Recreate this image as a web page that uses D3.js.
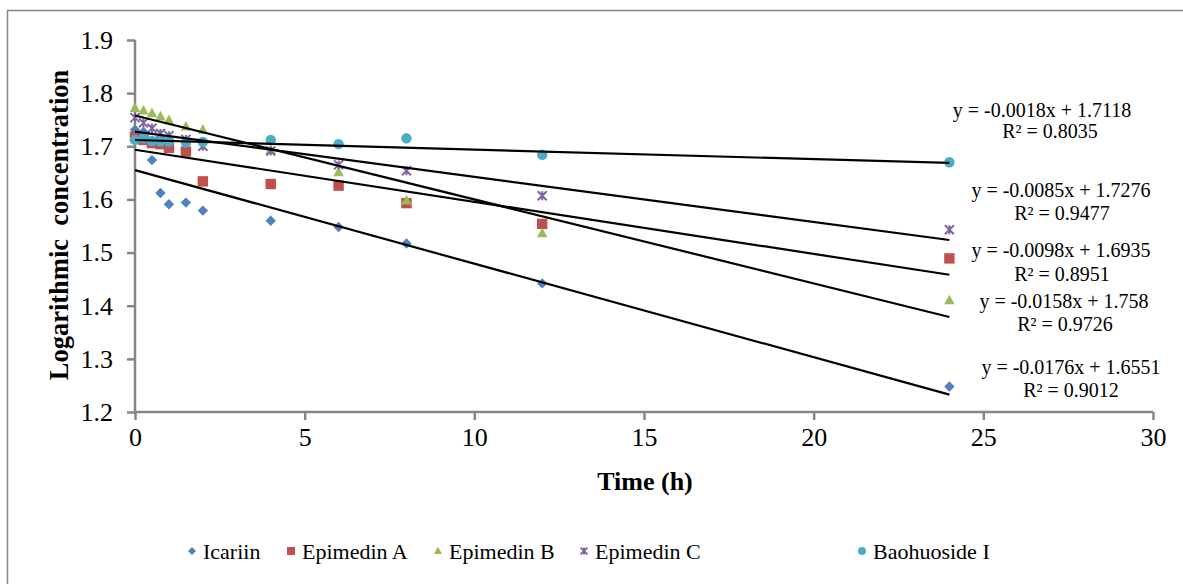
<!DOCTYPE html>
<html>
<head>
<meta charset="utf-8">
<script src="https://cdn.jsdelivr.net/npm/d3@7"></script>
<style>
  body { margin: 0; background: #fff; }
  text { font-family: "Liberation Serif", "Times New Roman", serif; fill: #000; }
</style>
</head>
<body>
<div id="chart-area"></div>
<script>
// sampling times (h)
var times = [0, 0.25, 0.5, 0.75, 1, 1.5, 2, 4, 6, 8, 12, 24];

// log concentration per compound
var icariin    = [1.731, 1.727, 1.674, 1.612, 1.591, 1.594, 1.579, 1.560, 1.548, 1.517, 1.442, 1.248];
var epimedinA  = [1.718, 1.712, 1.706, 1.704, 1.697, 1.690, 1.634, 1.629, 1.626, 1.593, 1.554, 1.489];
var epimedinB  = [1.772, 1.767, 1.762, 1.756, 1.749, 1.737, 1.731, 1.693, 1.651, 1.598, 1.536, 1.410];
var epimedinC  = [1.754, 1.744, 1.734, 1.724, 1.720, 1.713, 1.700, 1.691, 1.665, 1.654, 1.607, 1.543];
var baohuoside = [1.712, 1.715, 1.710, 1.709, 1.709, 1.707, 1.708, 1.712, 1.704, 1.715, 1.684, 1.670];

var names = ["Icariin", "Epimedin A", "Epimedin B", "Epimedin C", "Baohuoside I"];
var values = [icariin, epimedinA, epimedinB, epimedinC, baohuoside];

// linear trendlines
var slopes = [-0.0176, -0.0098, -0.0158, -0.0085, -0.0018];
var intercepts = [1.6551, 1.6935, 1.758, 1.7276, 1.7118];
var eqLabels = ["y = -0.0176x + 1.6551", "y = -0.0098x + 1.6935", "y = -0.0158x + 1.758",
                "y = -0.0085x + 1.7276", "y = -0.0018x + 1.7118"];
var r2Labels = ["R² = 0.9012", "R² = 0.8951", "R² = 0.9726", "R² = 0.9477", "R² = 0.8035"];

var xTicks = [0, 5, 10, 15, 20, 25, 30];
var yTicks = [1.2, 1.3, 1.4, 1.5, 1.6, 1.7, 1.8, 1.9];

var colors = ["#4F81BD", "#C0504D", "#9BBB59", "#8064A2", "#4BACC6"];
var shapes = ["diamond", "square", "triangle", "star", "circle"];

// label placement (pixels): [eq x, eq y, r2 x, r2 y]
var labelPos = [
    [1071, 367, 1071, 390],
    [1061, 250, 1062, 274],
    [1064, 301, 1065, 324],
    [1061, 190, 1062, 213],
    [1042, 110, 1050, 131]
];

var W = 1183, H = 584;
var margin = {top: 40, right: 30, bottom: 172, left: 135};
var width = W - margin.left - margin.right;
var height = H - margin.top - margin.bottom;

var svg = d3.select("#chart-area")
    .append("svg")
        .attr("width", W)
        .attr("height", H);

// outer frame
svg.append("rect")
    .attr("x", 7.5).attr("y", 10.5)
    .attr("width", W + 20).attr("height", H + 20)
    .attr("fill", "none")
    .attr("stroke", "#868686")
    .attr("stroke-width", 1.5);

var g = svg.append("g")
    .attr("transform", "translate(" + margin.left + ", " + margin.top + ")");

var x = d3.scaleLinear().domain([0, 30]).range([0, width]);
var y = d3.scaleLinear().domain([1.2, 1.9]).range([height, 0]);

function markerPath(shape, s) {
    if (shape == "diamond") {
        return "M0," + (-s) + "L" + s + ",0L0," + s + "L" + (-s) + ",0Z";
    }
    if (shape == "square") {
        return "M" + (-s) + "," + (-s) + "H" + s + "V" + s + "H" + (-s) + "Z";
    }
    if (shape == "triangle") {
        return "M0," + (-s * 1.1) + "L" + s + "," + (s * 0.75) + "L" + (-s) + "," + (s * 0.75) + "Z";
    }
    if (shape == "star") {
        return "M" + (-s) + "," + (-s) + "L" + s + "," + s +
               "M" + s + "," + (-s) + "L" + (-s) + "," + s +
               "M0," + (-s) + "L0," + s;
    }
    return d3.symbol(d3.symbolCircle, Math.PI * s * s)();
}

function drawMarker(sel, i, s) {
    var p = sel.append("path").attr("d", markerPath(shapes[i], s));
    if (shapes[i] == "star") {
        p.attr("fill", "none").attr("stroke", colors[i]).attr("stroke-width", 2);
    } else {
        p.attr("fill", colors[i]);
    }
    return p;
}

// axes
var leftAxis = d3.axisLeft(y).tickValues(yTicks).tickSize(8).tickPadding(14)
    .tickFormat(d3.format(".1f"));
var yAxisG = g.append("g").attr("class", "y axis").call(leftAxis);

var bottomAxis = d3.axisBottom(x).tickValues(xTicks).tickSize(8).tickPadding(8);
var xAxisG = g.append("g")
    .attr("class", "x axis")
    .attr("transform", "translate(0, " + height + ")")
    .call(bottomAxis);

[yAxisG, xAxisG].forEach(function(a) {
    a.selectAll("path, line").attr("stroke", "#868686").attr("stroke-width", 2.5);
    a.select(".domain").attr("d", a === yAxisG ? "M0,0V" + height : "M0,0H" + width);
    a.selectAll("text")
        .attr("font-family", "Liberation Serif, Times New Roman, serif")
        .attr("font-size", "26px")
        .attr("fill", "#000");
});

// points
values.forEach(function(vals, i) {
    vals.forEach(function(v, j) {
        var m = g.append("g")
            .attr("transform", "translate(" + x(times[j]) + "," + y(v) + ")");
        drawMarker(m, i, shapes[i] == "star" ? 4.5 : 5.2);
    });
});

// trendlines
slopes.forEach(function(s, i) {
    g.append("line")
        .attr("x1", x(0)).attr("y1", y(intercepts[i]))
        .attr("x2", x(24)).attr("y2", y(intercepts[i] + s * 24))
        .attr("stroke", "#000")
        .attr("stroke-width", 2.2);
});

// equation labels
labelPos.forEach(function(p, i) {
    svg.append("text")
        .attr("x", p[0]).attr("y", p[1])
        .attr("dy", "0.35em")
        .attr("text-anchor", "middle")
        .attr("font-size", "20px")
        .text(eqLabels[i]);
    svg.append("text")
        .attr("x", p[2]).attr("y", p[3])
        .attr("dy", "0.35em")
        .attr("text-anchor", "middle")
        .attr("font-size", "20px")
        .text(r2Labels[i]);
});

// axis titles
svg.append("text")
    .attr("x", margin.left + width / 2 + 1)
    .attr("y", 481)
    .attr("dy", "0.35em")
    .attr("text-anchor", "middle")
    .attr("font-size", "26px")
    .attr("font-weight", "bold")
    .text("Time (h)");

svg.append("text")
    .attr("transform", "translate(59, " + (margin.top + height / 2 - 1) + ") rotate(-90)")
    .attr("dy", "0.35em")
    .attr("text-anchor", "middle")
    .attr("font-size", "26.5px")
    .attr("font-weight", "bold")
    .attr("xml:space", "preserve")
    .style("white-space", "pre")
    .text("Logarithmic  concentration");

// legend
var legendX = [192, 291, 438, 584, 862];
names.forEach(function(n, i) {
    var lg = svg.append("g").attr("transform", "translate(" + legendX[i] + ", 551)");
    drawMarker(lg, i, shapes[i] == "star" ? 3.4 : 4);
    lg.append("text")
        .attr("x", 11)
        .attr("dy", "0.35em")
        .attr("font-size", "22px")
        .text(n);
});
</script>
</body>
</html>
